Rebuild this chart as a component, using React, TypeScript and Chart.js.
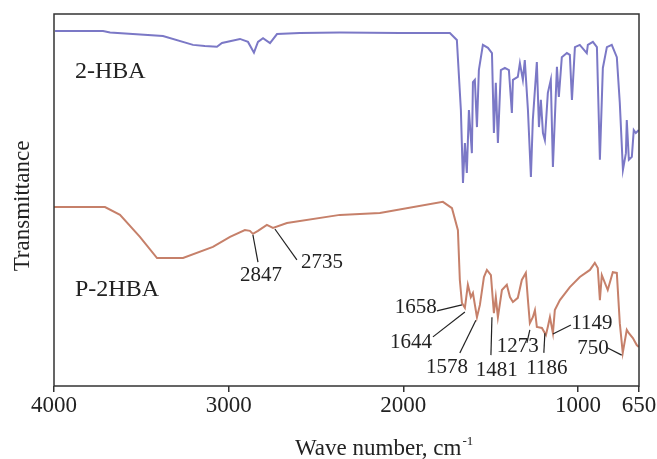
import React, { useEffect, useRef } from "react";
import { Chart, registerables } from "chart.js";

Chart.register(...registerables);

// 2-HBA spectrum (wavenumber cm-1, transmittance a.u.)
const hbaWn = [3994, 3719, 3679, 3376, 3204, 3136, 3067, 3038, 2935, 2889, 2855, 2832, 2803, 2763, 2723, 2592, 2363, 2019, 1733, 1693, 1670, 1658, 1647, 1636, 1624, 1607, 1601, 1590, 1578, 1567, 1544, 1515, 1492, 1481, 1470, 1458, 1441, 1418, 1395, 1378, 1372, 1344, 1332, 1315, 1304, 1286, 1269, 1258, 1235, 1223, 1212, 1200, 1189, 1172, 1155, 1143, 1120, 1109, 1092, 1063, 1046, 1034, 1017, 989, 949, 943, 914, 891, 874, 857, 834, 806, 777, 760, 742, 725, 720, 708, 691, 680, 668, 651];
const hbaT = [95.4, 95.4, 95.0, 94.1, 91.7, 91.4, 91.2, 92.2, 93.3, 92.5, 89.6, 92.5, 93.5, 92.2, 94.6, 94.9, 95.0, 94.9, 94.9, 93.0, 74.2, 54.6, 65.3, 57.3, 74.2, 62.6, 81.7, 82.3, 69.6, 84.9, 91.7, 90.9, 89.5, 68.0, 81.5, 65.3, 84.9, 85.5, 84.9, 73.4, 82.3, 83.1, 86.8, 82.3, 87.6, 74.2, 56.2, 71.5, 87.1, 69.6, 76.9, 68.0, 66.1, 78.8, 82.3, 58.9, 85.8, 77.7, 88.4, 89.5, 89.0, 76.9, 91.1, 91.7, 89.5, 91.7, 92.5, 91.1, 60.8, 85.5, 91.1, 91.7, 88.4, 76.1, 58.1, 62.6, 71.5, 60.8, 61.6, 68.8, 68.0, 68.8];

// P-2HBA spectrum
const polyWn = [4000, 3708, 3622, 3508, 3410, 3261, 3090, 2992, 2907, 2878, 2861, 2832, 2781, 2746, 2666, 2363, 2134, 1773, 1721, 1687, 1676, 1664, 1647, 1630, 1613, 1601, 1578, 1561, 1538, 1521, 1498, 1481, 1470, 1458, 1435, 1407, 1389, 1372, 1344, 1321, 1298, 1286, 1275, 1258, 1246, 1235, 1206, 1183, 1172, 1160, 1143, 1132, 1103, 1046, 989, 931, 903, 886, 874, 863, 829, 800, 777, 760, 743, 720, 708, 685, 663, 651];
const polyT = [48.1, 48.1, 46.0, 40.1, 34.4, 34.4, 37.4, 40.1, 41.9, 41.7, 40.9, 41.7, 43.3, 42.5, 43.8, 46.0, 46.5, 49.5, 47.8, 41.9, 28.5, 22.3, 21.0, 27.2, 23.9, 25.0, 18.5, 21.8, 29.3, 31.2, 29.8, 19.6, 23.9, 18.5, 25.8, 27.2, 23.9, 22.6, 23.7, 28.5, 30.4, 23.1, 16.9, 18.5, 20.4, 15.9, 15.6, 13.7, 15.9, 18.5, 14.2, 20.4, 23.1, 26.6, 29.3, 31.2, 33.1, 31.7, 23.1, 29.8, 25.8, 30.6, 30.4, 16.9, 8.9, 15.1, 14.2, 12.9, 11.0, 10.5];

const xTicks = [4000, 3000, 2000, 1000, 650];

// series name labels: [text, wn, T]
const seriesLabels: [string, number, number][] = [
  ["2-HBA", 3880, 84.4],
  ["P-2HBA", 3880, 25.8],
];

// peak labels: text, label wn, label T, line from (wn,T) to (wn,T)
const peakText = ["2847", "2735", "1658", "1644", "1578", "1481", "1273", "1186", "1149", "750"];
const peakLabelWn = [2815, 2466, 1928, 1956, 1750, 1464, 1344, 1178, 920, 914];
const peakLabelT = [29.8, 33.1, 21.0, 11.8, 5.1, 4.3, 10.5, 4.8, 16.9, 10.2];
const peakLineFromWn = [2861, 2735, 1807, 1830, 1676, 1498, 1292, 1195, 1143, 829];
const peakLineFromT = [40.6, 42.2, 20.2, 13.2, 8.9, 8.3, 11.6, 8.9, 14.0, 10.2];
const peakLineToWn = [2832, 2609, 1664, 1647, 1584, 1492, 1275, 1189, 1040, 749];
const peakLineToT = [33.3, 33.9, 21.8, 19.9, 17.7, 18.5, 15.1, 14.2, 16.4, 8.3];

const SERIF = "'Liberation Serif', 'Times New Roman', serif";

const annotPlugin = {
  id: "annot",
  afterDraw(chart: any) {
    const { ctx, chartArea, scales } = chart;
    const xs = scales.x;
    const ys = scales.y;
    ctx.save();
    // frame
    ctx.strokeStyle = "#333";
    ctx.lineWidth = 1.5;
    ctx.strokeRect(chartArea.left, chartArea.top, chartArea.right - chartArea.left, chartArea.bottom - chartArea.top);

    ctx.fillStyle = "#222";
    // series labels
    ctx.font = `24px ${SERIF}`;
    ctx.textAlign = "left";
    ctx.textBaseline = "middle";
    seriesLabels.forEach(([t, wn, v]) => {
      ctx.fillText(t, xs.getPixelForValue(wn), ys.getPixelForValue(v));
    });

    // peak labels
    ctx.font = `21px ${SERIF}`;
    ctx.textAlign = "center";
    ctx.strokeStyle = "#222";
    ctx.lineWidth = 1.2;
    peakText.forEach((t, i) => {
      ctx.fillText(t, xs.getPixelForValue(peakLabelWn[i]), ys.getPixelForValue(peakLabelT[i]));
      ctx.beginPath();
      ctx.moveTo(xs.getPixelForValue(peakLineFromWn[i]), ys.getPixelForValue(peakLineFromT[i]));
      ctx.lineTo(xs.getPixelForValue(peakLineToWn[i]), ys.getPixelForValue(peakLineToT[i]));
      ctx.stroke();
    });

    // x title with superscript
    ctx.textAlign = "left";
    ctx.textBaseline = "alphabetic";
    ctx.font = `23px ${SERIF}`;
    const main = "Wave number, cm";
    const tx = 295;
    const ty = 455;
    ctx.fillText(main, tx, ty);
    const w = ctx.measureText(main).width;
    ctx.font = `13px ${SERIF}`;
    ctx.fillText("-1", tx + w + 1, ty - 10);

    // y title
    ctx.font = `23px ${SERIF}`;
    ctx.translate(29, 206);
    ctx.rotate(-Math.PI / 2);
    ctx.textAlign = "center";
    ctx.fillText("Transmittance", 0, 0);
    ctx.restore();
  },
};

export default function App() {
  const ref = useRef<HTMLCanvasElement>(null);
  useEffect(() => {
    document.body.style.margin = "0";
    const chart = new Chart(ref.current!, {
      type: "line",
      data: {
        datasets: [
          {
            label: "2-HBA",
            data: hbaWn.map((x, i) => ({ x, y: hbaT[i] })),
            borderColor: "#7b78c6",
            borderWidth: 2,
            pointRadius: 0,
            tension: 0,
          },
          {
            label: "P-2HBA",
            data: polyWn.map((x, i) => ({ x, y: polyT[i] })),
            borderColor: "#c6806a",
            borderWidth: 2,
            pointRadius: 0,
            tension: 0,
          },
        ],
      },
      options: {
        animation: false,
        responsive: false,
        layout: { padding: { top: 14, right: 18, left: 0, bottom: 0 } },
        plugins: { legend: { display: false }, tooltip: { enabled: false } },
        scales: {
          x: {
            type: "linear",
            reverse: true,
            min: 650,
            max: 4000,
            afterBuildTicks: (s: any) => {
              s.ticks = xTicks.map((v) => ({ value: v }));
            },
            afterFit: (s: any) => {
              s.height = 73;
            },
            ticks: {
              autoSkip: false,
              maxRotation: 0,
              padding: 0,
              color: "#222",
              font: { family: SERIF, size: 23 },
              callback: (v: any) => String(v),
            },
            grid: { display: true, drawOnChartArea: false, drawTicks: true, tickLength: 6, color: "#333", lineWidth: 1.5 },
            border: { display: false },
          },
          y: {
            min: 0,
            max: 100,
            afterFit: (s: any) => {
              s.width = 54;
            },
            ticks: { display: false },
            grid: { display: false },
            border: { display: false },
          },
        },
      },
      plugins: [annotPlugin],
    });
    return () => chart.destroy();
  }, []);
  return <canvas ref={ref} width={657} height={459} style={{ display: "block" }} />;
}
